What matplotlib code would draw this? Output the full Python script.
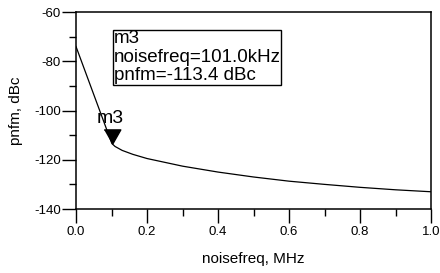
import matplotlib
matplotlib.use('Agg')
import matplotlib.pyplot as plt
from matplotlib.ticker import MultipleLocator

plt.rcParams['font.family'] = ['Liberation Sans', 'DejaVu Sans']
plt.rcParams['axes.unicode_minus'] = False

noisefreq = [0.0, 0.101, 0.11, 0.13, 0.16, 0.2, 0.3, 0.4, 0.5, 0.6, 0.7, 0.8, 0.9, 1.0]
pnfm = [-74.0, -113.4, -114.6, -116.2, -117.8, -119.5, -122.6, -125.0, -127.0,
        -128.7, -130.0, -131.2, -132.2, -133.0]
marker_x = 0.101
marker_y = -113.4
marker_text = 'm3\nnoisefreq=101.0kHz\npnfm=-113.4 dBc'

fig = plt.figure(figsize=(4.4, 2.73), dpi=100)
ax = fig.add_axes([0.1727, 0.2344, 0.8073, 0.7216])

ax.plot(noisefreq, pnfm, color='black', lw=0.9)
# triangle with its tip on the marker point
ax.plot([marker_x], [marker_y], marker=[(-0.57, 1), (0.57, 1), (0, 0)],
        ms=21, color='black', ls='none')
ax.text(marker_x - 0.004, marker_y + 6.8, 'm3', ha='center', va='bottom', fontsize=14)
ax.text(0.106, -67.5, marker_text, ha='left', va='top', fontsize=13.5,
        linespacing=1.1,
        bbox=dict(boxstyle='square,pad=0.05', fc='white', ec='black', lw=1.0))

ax.set_xlim(0, 1.0)
ax.set_ylim(-140, -60)
ax.xaxis.set_major_locator(MultipleLocator(0.2))
ax.xaxis.set_minor_locator(MultipleLocator(0.1))
ax.yaxis.set_major_locator(MultipleLocator(20))
ax.yaxis.set_minor_locator(MultipleLocator(10))
ax.tick_params(which='major', direction='out', length=10, width=1.0, labelsize=9.5, pad=2)
ax.tick_params(which='minor', direction='out', length=5, width=1.0)
ax.tick_params(axis='y', pad=1)
ax.xaxis.set_major_formatter(plt.FuncFormatter(lambda v, p: f'{v:.1f}'))
for s in ax.spines.values():
    s.set_linewidth(1.1)

ax.set_xlabel('noisefreq, MHz', fontsize=11, labelpad=10)
ax.set_ylabel('pnfm, dBc', fontsize=11, labelpad=8)

fig.savefig('out.png', dpi=100)
